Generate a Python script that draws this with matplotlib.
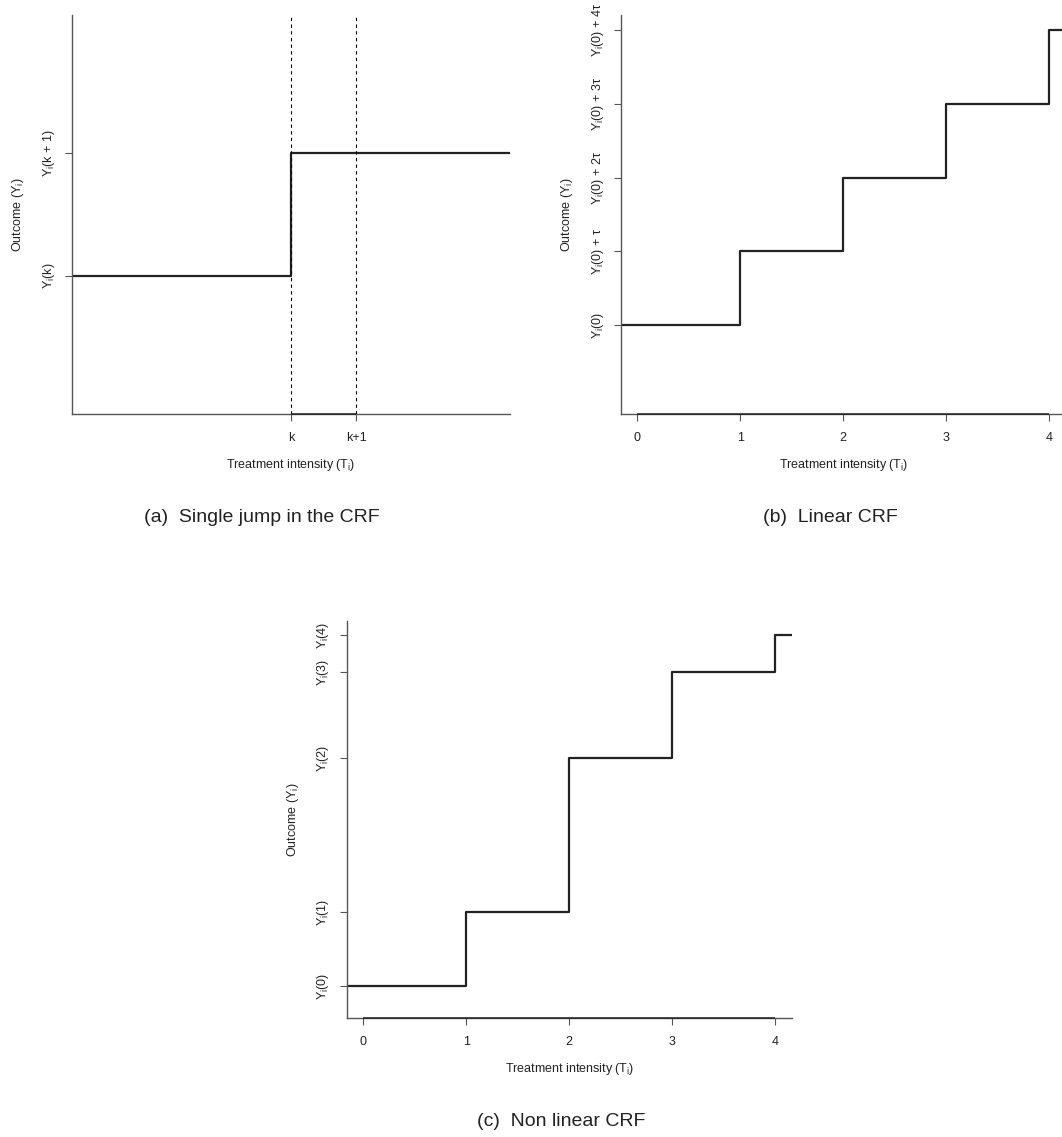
import matplotlib
matplotlib.use("Agg")
import matplotlib.pyplot as plt

plt.rcParams['font.family'] = ['Liberation Sans', 'DejaVu Sans']
plt.rcParams['mathtext.fontset'] = 'custom'
plt.rcParams['mathtext.rm'] = 'Liberation Sans'
plt.rcParams['mathtext.default'] = 'regular'

# (a) single jump
jump_x = [-1, 3, 8]            # k = 3
jump_y = [1, 2, 2]             # Y_i(k), Y_i(k+1)
jump_xticks = [3, 4]
jump_xlabels = ['k', 'k+1']
jump_yticks = [1, 2]
jump_ylabels = ['Y$_i$(k)', 'Y$_i$(k + 1)']

# (b) linear CRF
lin_x = [-1, 1, 2, 3, 4, 5]
lin_y = [0, 1, 2, 3, 4, 4]
lin_yticks = [0, 1, 2, 3, 4]
lin_ylabels = ['Y$_i$(0)', 'Y$_i$(0) + τ', 'Y$_i$(0) + 2τ',
               'Y$_i$(0) + 3τ', 'Y$_i$(0) + 4τ']

# (c) non linear CRF
nl_x = [-1, 1, 2, 3, 4, 5]
nl_y = [0, 2.1, 6.5, 8.95, 10, 10]
nl_yticks = [0, 2.1, 6.5, 8.95, 10]
nl_ylabels = ['Y$_i$(0)', 'Y$_i$(1)', 'Y$_i$(2)', 'Y$_i$(3)', 'Y$_i$(4)']

T = [0, 1, 2, 3, 4]

W, H = 1062, 1137
fig = plt.figure(figsize=(W / 100, H / 100), dpi=100)
txt = '#222222'
spine_c = '#555555'


def panel(box, xlim, ylim):
    l, t, w, h = box
    ax = fig.add_axes([l / W, (H - t - h) / H, w / W, h / H])
    ax.set_xlim(*xlim)
    ax.set_ylim(*ylim)
    for s in ['top', 'right']:
        ax.spines[s].set_visible(False)
    for s in ['left', 'bottom']:
        ax.spines[s].set_color(spine_c)
        ax.spines[s].set_linewidth(1.0)
    ax.tick_params(length=5, width=0.8, color=spine_c, labelsize=9,
                   labelcolor=txt)
    ax.tick_params(axis='x', pad=8)
    ax.tick_params(axis='y', pad=6)
    ax.set_xlabel('Treatment intensity (T$_i$)', fontsize=9, color=txt, va='center')
    ax.set_ylabel('Outcome (Y$_i$)', fontsize=9, color=txt, va='center')
    ax.xaxis.set_label_coords(0.5, -51 / h)
    ax.yaxis.set_label_coords(-54 / w, 0.5)
    return ax


def axis_line(ax, ticks):
    ax.hlines(ax.get_ylim()[0], ticks[0], ticks[-1], color='#222222',
              lw=1.1, clip_on=False, zorder=3)


# panel (a)
ax = panel((72, 15, 438, 399), (-0.369, 6.369), (-0.12, 3.12))
ax.step(jump_x, jump_y, where='post', color='#222222', lw=1.6)
for xv in jump_xticks:
    ax.axvline(xv, color='black', lw=0.8, dashes=(3, 3))
ax.set_xticks(jump_xticks, jump_xlabels)
ax.set_yticks(jump_yticks, jump_ylabels, rotation=90, va='center')
axis_line(ax, jump_xticks)

# panel (b)
ax = panel((621, 15, 444.5, 399), (-0.16, 4.16), (-1.2, 4.2))
ax.step(lin_x, lin_y, where='post', color='#222222', lw=1.6)
ax.set_xticks(T)
ax.set_yticks(lin_yticks, lin_ylabels, rotation=90, va='center')
axis_line(ax, T)

# panel (c)
ax = panel((346.7, 620.7, 445, 397.6), (-0.16, 4.16), (-0.92, 10.42))
ax.step(nl_x, nl_y, where='post', color='#222222', lw=1.6)
ax.set_xticks(T)
ax.set_yticks(nl_yticks, nl_ylabels, rotation=90, va='center')
axis_line(ax, T)

fig.text(262 / W, 1 - 518 / H, '(a)  Single jump in the CRF', fontsize=14,
         ha='center', va='center', color=txt)
fig.text(830 / W, 1 - 518 / H, '(b)  Linear CRF', fontsize=14,
         ha='center', va='center', color=txt)
fig.text(561 / W, 1 - 1122 / H, '(c)  Non linear CRF', fontsize=14,
         ha='center', va='center', color=txt)

fig.savefig('out.png', dpi=100)
